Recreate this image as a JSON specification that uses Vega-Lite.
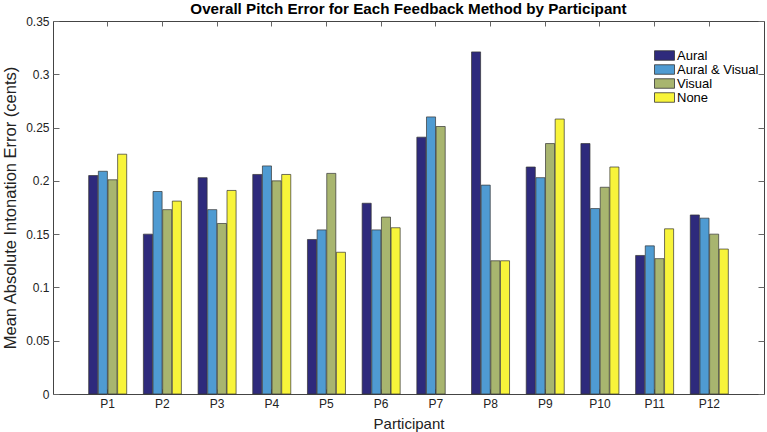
{
  "$schema": "https://vega.github.io/schema/vega-lite/v6.json",
  "width": 711,
  "height": 373,
  "autosize": {"type": "none"},
  "padding": {"left": 53, "top": 21, "right": 3, "bottom": 38},
  "background": "white",
  "title": {
    "text": "Overall Pitch Error for Each Feedback Method by Participant",
    "font": "Liberation Sans",
    "fontSize": 15.2,
    "fontWeight": "bold",
    "color": "black",
    "anchor": "middle",
    "offset": -2
  },
  "config": {
    "view": {"stroke": "#444", "strokeWidth": 1},
    "font": "Liberation Sans",
    "axis": {
      "grid": false,
      "domain": false,
      "labelFont": "Liberation Sans",
      "labelFontSize": 12,
      "labelColor": "#222",
      "tickColor": "#666",
      "tickWidth": 1,
      "titleFont": "Liberation Sans",
      "titleFontWeight": "normal",
      "titleColor": "#222"
    }
  },
  "data": {
    "values": [
      {"Participant": "P1", "Method": "Aural", "Value": 0.205},
      {"Participant": "P1", "Method": "Aural & Visual", "Value": 0.209},
      {"Participant": "P1", "Method": "Visual", "Value": 0.201},
      {"Participant": "P1", "Method": "None", "Value": 0.225},
      {"Participant": "P2", "Method": "Aural", "Value": 0.150},
      {"Participant": "P2", "Method": "Aural & Visual", "Value": 0.190},
      {"Participant": "P2", "Method": "Visual", "Value": 0.173},
      {"Participant": "P2", "Method": "None", "Value": 0.181},
      {"Participant": "P3", "Method": "Aural", "Value": 0.203},
      {"Participant": "P3", "Method": "Aural & Visual", "Value": 0.173},
      {"Participant": "P3", "Method": "Visual", "Value": 0.160},
      {"Participant": "P3", "Method": "None", "Value": 0.191},
      {"Participant": "P4", "Method": "Aural", "Value": 0.206},
      {"Participant": "P4", "Method": "Aural & Visual", "Value": 0.214},
      {"Participant": "P4", "Method": "Visual", "Value": 0.200},
      {"Participant": "P4", "Method": "None", "Value": 0.206},
      {"Participant": "P5", "Method": "Aural", "Value": 0.145},
      {"Participant": "P5", "Method": "Aural & Visual", "Value": 0.154},
      {"Participant": "P5", "Method": "Visual", "Value": 0.207},
      {"Participant": "P5", "Method": "None", "Value": 0.133},
      {"Participant": "P6", "Method": "Aural", "Value": 0.179},
      {"Participant": "P6", "Method": "Aural & Visual", "Value": 0.154},
      {"Participant": "P6", "Method": "Visual", "Value": 0.166},
      {"Participant": "P6", "Method": "None", "Value": 0.156},
      {"Participant": "P7", "Method": "Aural", "Value": 0.241},
      {"Participant": "P7", "Method": "Aural & Visual", "Value": 0.260},
      {"Participant": "P7", "Method": "Visual", "Value": 0.251},
      {"Participant": "P8", "Method": "Aural", "Value": 0.321},
      {"Participant": "P8", "Method": "Aural & Visual", "Value": 0.196},
      {"Participant": "P8", "Method": "Visual", "Value": 0.125},
      {"Participant": "P8", "Method": "None", "Value": 0.125},
      {"Participant": "P9", "Method": "Aural", "Value": 0.213},
      {"Participant": "P9", "Method": "Aural & Visual", "Value": 0.203},
      {"Participant": "P9", "Method": "Visual", "Value": 0.235},
      {"Participant": "P9", "Method": "None", "Value": 0.258},
      {"Participant": "P10", "Method": "Aural", "Value": 0.235},
      {"Participant": "P10", "Method": "Aural & Visual", "Value": 0.174},
      {"Participant": "P10", "Method": "Visual", "Value": 0.194},
      {"Participant": "P10", "Method": "None", "Value": 0.213},
      {"Participant": "P11", "Method": "Aural", "Value": 0.130},
      {"Participant": "P11", "Method": "Aural & Visual", "Value": 0.139},
      {"Participant": "P11", "Method": "Visual", "Value": 0.127},
      {"Participant": "P11", "Method": "None", "Value": 0.155},
      {"Participant": "P12", "Method": "Aural", "Value": 0.168},
      {"Participant": "P12", "Method": "Aural & Visual", "Value": 0.165},
      {"Participant": "P12", "Method": "Visual", "Value": 0.150},
      {"Participant": "P12", "Method": "None", "Value": 0.136}
    ]
  },
  "layer": [
    {
      "mark": {"type": "bar", "stroke": "#333", "strokeWidth": 0.7},
      "encoding": {
        "x": {
          "field": "Participant",
          "type": "nominal",
          "scale": {
            "domain": ["P1","P2","P3","P4","P5","P6","P7","P8","P9","P10","P11","P12"],
            "paddingInner": 0.305,
            "paddingOuter": 0.6525
          },
          "axis": {
            "orient": "bottom",
            "labelAngle": 0,
            "tickSize": -5,
            "labelPadding": 9,
            "title": "Participant",
            "titleFontSize": 15,
            "titleX": 355.5,
            "titleY": 29,
            "titleAlign": "center",
            "titleBaseline": "middle"
          }
        },
        "xOffset": {
          "field": "Method",
          "type": "nominal",
          "scale": {
            "domain": ["Aural", "Aural & Visual", "Visual", "None"],
            "paddingInner": 0.06,
            "paddingOuter": 0
          }
        },
        "y": {
          "field": "Value",
          "type": "quantitative",
          "scale": {"domain": [0, 0.35], "nice": false},
          "axis": {
            "orient": "left",
            "values": [0, 0.05, 0.1, 0.15, 0.2, 0.25, 0.3, 0.35],
            "format": "~g",
            "tickSize": -6,
            "labelPadding": 10,
            "title": "Mean Absolute Intonation Error (cents)",
            "titleFontSize": 16.5,
            "titleAngle": -90,
            "titleX": -43,
            "titleY": 186.5,
            "titleAlign": "center",
            "titleBaseline": "middle"
          }
        },
        "fill": {
          "field": "Method",
          "type": "nominal",
          "scale": {
            "domain": ["Aural", "Aural & Visual", "Visual", "None"],
            "range": ["#2e2a7c", "#4f9bd2", "#a8b56f", "#f8f43a"]
          },
          "legend": {
            "orient": "none",
            "legendX": 605,
            "legendY": 28,
            "title": null,
            "padding": 0,
            "symbolType": "M-2,-0.95H2V0.95H-2Z",
            "symbolSize": 100,
            "symbolStrokeColor": "#333",
            "symbolStrokeWidth": 0.8,
            "symbolOpacity": 1,
            "labelFont": "Liberation Sans",
            "labelFontSize": 13,
            "labelColor": "black",
            "labelOffset": 6,
            "rowPadding": -2.5
          }
        }
      }
    },
    {
      "mark": {"type": "point", "opacity": 0},
      "encoding": {
        "x": {
          "field": "Participant",
          "type": "nominal",
          "axis": {"orient": "top", "labels": false, "title": null, "tickSize": -5}
        },
        "y": {
          "field": "Value",
          "type": "quantitative",
          "axis": {
            "orient": "right",
            "labels": false,
            "title": null,
            "tickSize": -6,
            "values": [0, 0.05, 0.1, 0.15, 0.2, 0.25, 0.3, 0.35]
          }
        }
      }
    }
  ],
  "resolve": {"axis": {"x": "independent", "y": "independent"}}
}
